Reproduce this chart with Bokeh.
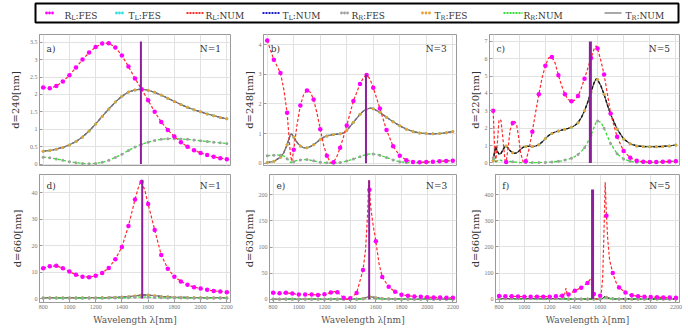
from bokeh.plotting import figure
from bokeh.models import Range1d, FixedTicker, Label, BoxAnnotation
from bokeh.layouts import column, row
from bokeh.embed import file_html
from bokeh.resources import INLINE
from bokeh.core.properties import value

# ---------------- data ----------------
x_ticks = [800, 1000, 1200, 1400, 1600, 1800, 2000, 2200]

# a) d=240nm, N=1
wl_a = [800, 850, 900, 950, 1000, 1050, 1100, 1150, 1200, 1250,
        1300, 1350, 1400, 1450, 1500, 1550, 1600, 1650, 1700, 1750,
        1800, 1850, 1900, 1950, 2000, 2050, 2100, 2150, 2200]
RL_a = [2.20, 2.18, 2.24, 2.37, 2.55, 2.77, 3.00, 3.20, 3.36, 3.46,
        3.47, 3.35, 3.12, 2.80, 2.46, 2.15, 1.83, 1.50, 1.21, 0.98,
        0.79, 0.63, 0.50, 0.40, 0.32, 0.26, 0.21, 0.17, 0.14]
T_a = [0.37, 0.39, 0.43, 0.48, 0.55, 0.65, 0.78, 0.95, 1.15, 1.37,
       1.58, 1.78, 1.95, 2.07, 2.13, 2.15, 2.12, 2.06, 1.98, 1.89,
       1.80, 1.71, 1.63, 1.56, 1.50, 1.44, 1.39, 1.34, 1.30]
RR_a = [0.20, 0.18, 0.15, 0.11, 0.07, 0.04, 0.02, 0.01, 0.02, 0.05,
        0.11, 0.19, 0.28, 0.39, 0.49, 0.57, 0.63, 0.68, 0.71, 0.73,
        0.73, 0.72, 0.71, 0.69, 0.67, 0.65, 0.63, 0.61, 0.59]

# b) d=248nm, N=3
wl_b = [800, 850, 900, 925, 950, 975, 985, 1000, 1025, 1050,
        1075, 1100, 1125, 1150, 1175, 1200, 1225, 1250, 1275, 1290,
        1300, 1325, 1350, 1375, 1400, 1450, 1500, 1525, 1550, 1575,
        1600, 1650, 1700, 1750, 1800, 1850, 1900, 1950, 2000, 2050,
        2100, 2150, 2200]
RL_b = [4.15, 3.50, 3.05, 2.50, 1.70, 0.30, 0.05, 0.45, 1.30, 1.95,
        2.32, 2.46, 2.40, 2.15, 1.70, 1.15, 0.62, 0.25, 0.04, 0.00,
        0.03, 0.22, 0.52, 0.88, 1.27, 2.10, 2.68, 2.88, 2.98, 2.85,
        2.55, 1.85, 1.12, 0.57, 0.25, 0.10, 0.04, 0.03, 0.04, 0.05,
        0.06, 0.07, 0.08]
T_b = [0.02, 0.06, 0.20, 0.35, 0.62, 0.97, 0.98, 0.88, 0.70, 0.58,
       0.52, 0.52, 0.56, 0.62, 0.71, 0.80, 0.87, 0.92, 0.95, 0.96,
       0.97, 0.98, 0.99, 1.02, 1.10, 1.38, 1.65, 1.76, 1.83, 1.86,
       1.84, 1.72, 1.55, 1.40, 1.26, 1.15, 1.07, 1.02, 1.00, 0.99,
       1.00, 1.03, 1.07]
RR_b = [0.25, 0.27, 0.27, 0.24, 0.15, 0.03, 0.02, 0.05, 0.09, 0.11,
        0.12, 0.12, 0.10, 0.08, 0.05, 0.03, 0.02, 0.01, 0.00, 0.00,
        0.00, 0.01, 0.02, 0.04, 0.07, 0.14, 0.22, 0.26, 0.29, 0.31,
        0.31, 0.27, 0.19, 0.11, 0.05, 0.02, 0.01, 0.02, 0.03, 0.04,
        0.06, 0.08, 0.10]

# c) d=220nm, N=5
wl_c = [800, 810, 820, 830, 845, 860, 875, 890, 900, 915,
        930, 950, 965, 980, 995, 1010, 1030, 1050, 1075, 1100,
        1125, 1150, 1175, 1200, 1225, 1250, 1275, 1300, 1325, 1350,
        1375, 1400, 1425, 1450, 1475, 1500, 1525, 1550, 1575, 1590,
        1600, 1625, 1650, 1675, 1700, 1750, 1800, 1850, 1900, 1950,
        2000, 2050, 2100, 2150, 2200]
RL_c = [3.00, 1.20, 0.05, 0.90, 2.50, 2.45, 1.40, 0.20, 0.05, 0.90,
        1.90, 2.30, 2.40, 2.20, 1.50, 0.60, 0.05, 0.10, 0.80, 1.80,
        2.90, 3.95, 4.90, 5.60, 6.05, 6.10, 5.75, 5.05, 4.45, 3.95,
        3.65, 3.55, 3.62, 3.85, 4.30, 4.85, 5.45, 6.05, 6.60, 6.75,
        6.60, 5.90, 5.10, 4.00, 2.85, 1.50, 0.68, 0.30, 0.12, 0.06,
        0.05, 0.05, 0.06, 0.08, 0.10]
T_c = [0.12, 0.60, 0.95, 0.70, 0.50, 0.55, 0.75, 0.95, 0.97, 0.85,
       0.70, 0.58, 0.55, 0.58, 0.66, 0.78, 0.90, 0.95, 0.95, 0.94,
       0.97, 1.05, 1.20, 1.40, 1.58, 1.70, 1.78, 1.84, 1.89, 1.94,
       1.99, 2.05, 2.15, 2.32, 2.60, 3.00, 3.50, 4.10, 4.65, 4.85,
       4.80, 4.45, 3.95, 3.35, 2.80, 1.95, 1.38, 1.10, 0.98, 0.94,
       0.93, 0.93, 0.95, 0.98, 1.03]
RR_c = [0.30, 0.15, 0.05, 0.10, 0.20, 0.15, 0.08, 0.05, 0.04, 0.06,
        0.08, 0.07, 0.05, 0.04, 0.03, 0.02, 0.02, 0.02, 0.02, 0.02,
        0.02, 0.02, 0.03, 0.03, 0.04, 0.05, 0.07, 0.09, 0.12, 0.16,
        0.21, 0.27, 0.36, 0.48, 0.65, 0.88, 1.20, 1.60, 2.10, 2.35,
        2.42, 2.35, 2.00, 1.55, 1.12, 0.52, 0.22, 0.09, 0.04, 0.02,
        0.02, 0.03, 0.05, 0.08, 0.12]

# d) d=660nm, N=1
wl_d = [800, 850, 900, 950, 1000, 1050, 1100, 1150, 1200, 1250,
        1300, 1350, 1400, 1450, 1500, 1525, 1545, 1550, 1575, 1600,
        1650, 1700, 1750, 1800, 1850, 1900, 1950, 2000, 2050, 2100,
        2150, 2200]
RL_d = [11.5, 12.2, 12.4, 11.5, 10.2, 9.0, 8.3, 8.1, 8.6, 9.7,
        11.6, 14.9, 19.5, 27.5, 37.5, 42.0, 44.5, 44.2, 41.0, 35.8,
        26.0, 16.5, 11.3, 8.3, 6.5, 5.2, 4.3, 3.8, 3.3, 2.9,
        2.7, 2.4]
T_d = [0.30, 0.30, 0.30, 0.30, 0.30, 0.30, 0.30, 0.31, 0.33, 0.36,
       0.40, 0.46, 0.55, 0.72, 0.98, 1.15, 1.28, 1.30, 1.36, 1.32,
       1.08, 0.82, 0.64, 0.52, 0.45, 0.40, 0.37, 0.35, 0.33, 0.32,
       0.31, 0.30]
RR_d = [0.12, 0.12, 0.12, 0.12, 0.12, 0.12, 0.12, 0.12, 0.13, 0.14,
        0.16, 0.19, 0.24, 0.32, 0.45, 0.52, 0.56, 0.56, 0.55, 0.50,
        0.40, 0.30, 0.24, 0.20, 0.18, 0.16, 0.15, 0.14, 0.14, 0.13,
        0.13, 0.12]

# e) d=630nm, N=3
wl_e = [800, 850, 900, 950, 1000, 1050, 1100, 1150, 1200, 1250,
        1280, 1300, 1350, 1375, 1400, 1450, 1500, 1520, 1535, 1545,
        1550, 1560, 1575, 1600, 1625, 1650, 1700, 1750, 1800, 1850,
        1900, 1950, 2000, 2050, 2100, 2150, 2200]
RL_e = [12.7, 11.5, 12.5, 11.0, 9.5, 9.2, 9.3, 8.5, 10.0, 13.0,
        15.0, 13.5, 3.0, 0.3, 2.0, 12.0, 56.0, 95.0, 160.0, 228.0,
        210.0, 178.0, 148.0, 111.0, 68.0, 43.0, 24.0, 14.5, 9.0, 7.0,
        5.5, 4.8, 4.2, 3.8, 3.5, 3.2, 3.0]
T_e = [0.5, 0.5, 0.5, 0.5, 0.5, 0.5, 0.5, 0.5, 0.5, 0.6,
       0.7, 0.6, 0.3, 0.2, 0.3, 0.6, 1.8, 3.0, 4.5, 5.5,
       5.4, 5.0, 4.2, 3.2, 2.2, 1.6, 1.0, 0.8, 0.7, 0.6,
       0.6, 0.5, 0.5, 0.5, 0.5, 0.5, 0.5]
RR_e = [0.3, 0.3, 0.3, 0.3, 0.3, 0.3, 0.3, 0.3, 0.3, 0.3,
        0.3, 0.3, 0.2, 0.2, 0.2, 0.3, 0.8, 1.4, 2.0, 2.4,
        2.3, 2.1, 1.8, 1.3, 0.9, 0.7, 0.5, 0.4, 0.4, 0.3,
        0.3, 0.3, 0.3, 0.3, 0.3, 0.3, 0.3]

# f) d=660nm, N=5
wl_f = [800, 850, 900, 950, 1000, 1050, 1100, 1150, 1200, 1250,
        1300, 1320, 1330, 1340, 1350, 1400, 1450, 1500, 1520, 1530,
        1540, 1550, 1560, 1575, 1590, 1600, 1610, 1620, 1630, 1640,
        1650, 1660, 1675, 1700, 1725, 1750, 1800, 1850, 1900, 1950,
        2000, 2050, 2100, 2150, 2200]
RL_f = [11.7, 11.0, 10.5, 10.0, 9.5, 9.0, 9.0, 9.2, 9.5, 10.5,
        12.5, 20.0, 42.0, 15.0, 18.0, 32.0, 44.0, 62.0, 75.0, 81.0,
        65.0, 20.0, 2.0, 1.0, 6.0, 13.0, 28.0, 80.0, 250.0, 448.0,
        320.0, 230.0, 150.0, 100.0, 65.0, 45.0, 25.0, 15.0, 11.0, 9.0,
        8.0, 7.0, 6.5, 6.0, 5.5]
T_f = [2.0, 2.0, 2.0, 2.0, 2.0, 2.0, 2.0, 2.0, 2.0, 2.0,
       2.0, 2.5, 1.0, 0.5, 0.5, 0.5, 0.6, 0.8, 1.0, 1.0,
       0.8, 0.5, 0.3, 0.3, 0.5, 0.8, 1.5, 3.0, 6.0, 9.0,
       7.0, 4.5, 2.5, 1.5, 1.0, 0.8, 0.6, 0.5, 0.5, 0.5,
       0.5, 0.5, 0.5, 0.5, 0.5]
RR_f = [1.0, 1.0, 1.0, 1.0, 1.0, 1.0, 1.0, 1.0, 1.0, 1.0,
        1.0, 1.0, 0.5, 0.5, 0.5, 0.5, 0.5, 0.6, 0.7, 0.7,
        0.6, 0.4, 0.3, 0.3, 0.4, 0.6, 1.0, 2.0, 4.0, 6.0,
        5.0, 3.5, 2.0, 1.2, 0.8, 0.6, 0.5, 0.5, 0.5, 0.5,
        0.5, 0.5, 0.5, 0.5, 0.5]

# resonance marker (vertical purple line): wavelength and top value per panel
res_wl = [1545, 1545, 1545, 1555, 1548, 1540]
res_top = [3.52, 3.0, 7.0, 45.0, 228.0, 420.0]

panel_tags = ["a)", "b)", "c)", "d)", "e)", "f)"]
panel_N = ["N=1", "N=3", "N=5", "N=1", "N=3", "N=5"]
panel_ylabels = ["d=240[nm]", "d=248[nm]", "d=220[nm]", "d=660[nm]", "d=630[nm]", "d=660[nm]"]
y_ranges = [(-0.04, 3.72), (-0.08, 4.35), (-0.15, 7.4), (-1.5, 47.0), (-6.0, 239.0), (-13.0, 478.0)]
y_ticks = [[0.0, 0.5, 1.0, 1.5, 2.0, 2.5, 3.0, 3.5], [0, 1, 2, 3, 4], [0, 1, 2, 3, 4, 5, 6, 7],
           [0, 10, 20, 30, 40], [0, 50, 100, 150, 200], [0, 100, 200, 300, 400]]

series = [(wl_a, RL_a, T_a, RR_a), (wl_b, RL_b, T_b, RR_b), (wl_c, RL_c, T_c, RR_c),
          (wl_d, RL_d, T_d, RR_d), (wl_e, RL_e, T_e, RR_e), (wl_f, RL_f, T_f, RR_f)]
for s in series:
    assert all(len(v) == len(s[0]) for v in s), [len(v) for v in s]

# ---------------- style ----------------
SERIF = "DejaVu Serif"
TICKF = "Liberation Serif"
C_RL_FES = "#ff00ff"
C_TL_FES = "#33e0e0"
C_RL_NUM = "#ff2a2a"
C_TL_NUM = "#1a1acc"
C_RR_FES = "#a0a0a0"
C_TR_FES = "#e8a030"
C_RR_NUM = "#33dd33"
C_TR_NUM = "#7f7468"
C_RES = "#8e1f9a"
dark_T = [False, False, True, False, False, True]
res_width = [2, 2, 3, 2, 2, 3]

X0, X1 = 772, 2228
col_w = [240, 226, 222]
col_left = [39, 18, 20]
col_right = [10, 10, 9]
label_standoff = [6, 1, 1]


def make_panel(i):
    wl, rl, t, rr = series[i]
    c = i % 3
    bottom = i >= 3
    h = 158 if bottom else 146
    p = figure(width=col_w[c], height=h, x_range=Range1d(X0, X1),
               y_range=Range1d(*y_ranges[i]), output_backend="svg", toolbar_location=None,
               min_border_left=col_left[c], min_border_right=col_right[c],
               min_border_top=4 if bottom else 10, min_border_bottom=26 if bottom else 5)
    p.background_fill_color = "white"
    p.border_fill_color = "white"
    p.outline_line_color = "#9a9a9a"
    p.xaxis.ticker = FixedTicker(ticks=x_ticks)
    p.yaxis.ticker = FixedTicker(ticks=y_ticks[i])
    p.grid.grid_line_color = "#e2e2e2"
    p.grid.grid_line_width = 1
    for ax in (p.xaxis[0], p.yaxis[0]):
        ax.axis_line_color = "#9a9a9a"
        ax.major_tick_in = 3
        ax.major_tick_out = 0
        ax.major_tick_line_color = "#9a9a9a"
        ax.minor_tick_line_color = None
        ax.major_label_text_font = TICKF
        ax.major_label_text_font_size = "6px"
        ax.major_label_text_color = "#777777"
        ax.major_label_standoff = 2
    p.yaxis.axis_label = panel_ylabels[i]
    p.yaxis.axis_label_text_font = SERIF
    p.yaxis.axis_label_text_font_size = "10px"
    p.yaxis.axis_label_text_font_style = "normal"
    p.yaxis.axis_label_text_color = "#333333"
    p.yaxis.axis_label_standoff = label_standoff[c]
    if bottom:
        p.xaxis.axis_label = "Wavelength λ[nm]"
        p.xaxis.axis_label_text_font = SERIF
        p.xaxis.axis_label_text_font_size = "9px"
        p.xaxis.axis_label_text_font_style = "normal"
        p.xaxis.axis_label_text_color = "#555555"
        p.xaxis.axis_label_standoff = 3
        p.xaxis.major_label_standoff = 2
    else:
        p.xaxis.visible = False

    dw = [w for w in wl if w % 50 == 0]
    pick = lambda arr: [v for w, v in zip(wl, arr) if w % 50 == 0]

    # numerical curves
    if dark_T[i]:
        p.line(wl, t, line_color="#555555", line_width=1.2)
        p.line(wl, t, line_color="#111111", line_width=1.3, line_dash="3 2")
    else:
        p.line(wl, t, line_color=C_TL_NUM, line_width=1.2, line_dash="3 2")
        p.line(wl, t, line_color=C_TR_NUM, line_width=1.3)
    p.line(wl, rr, line_color=C_RR_NUM, line_width=1.3, line_dash="3 2")
    p.line(wl, rl, line_color=C_RL_NUM, line_width=1.2, line_dash="3 2")
    # FES dots
    p.scatter(dw, pick(t), size=3, color=C_TL_FES, line_color=None)
    p.scatter(dw, pick(t), size=3, color=C_TR_FES, line_color=None)
    p.scatter(dw, pick(rr), size=3, color=C_RR_FES, line_color=None)
    p.scatter(dw, pick(rl), size=4.5, color=C_RL_FES, line_color=None)
    # resonance line
    p.segment(x0=[res_wl[i]], y0=[0], x1=[res_wl[i]], y1=[res_top[i]],
              line_color=C_RES, line_width=res_width[i])

    y0, y1 = y_ranges[i]
    fy = 0.09 if bottom else 0.11
    p.add_layout(Label(x=X0 + 0.037 * (X1 - X0), y=y1 - fy * (y1 - y0), text=panel_tags[i],
                       text_font=SERIF, text_font_size="9px", text_color="#333333",
                       text_baseline="middle", text_align="left"))
    p.add_layout(Label(x=X1 - 0.05 * (X1 - X0), y=y1 - fy * (y1 - y0), text=panel_N[i],
                       text_font=SERIF, text_font_size="9px", text_color="#333333",
                       text_baseline="middle", text_align="right"))
    return p


panels = [make_panel(i) for i in range(6)]

# ---------------- legend strip ----------------
LH = 24
leg = figure(width=688, height=LH, x_range=Range1d(0, 688), y_range=Range1d(0, LH),
             output_backend="svg", toolbar_location=None, min_border=0)
leg.axis.visible = False
leg.grid.visible = False
leg.outline_line_color = None
leg.add_layout(BoxAnnotation(left=35, right=678, bottom=2, top=21, fill_color=None,
                             line_color="black", line_alpha=1.0, line_width=2))

leg_kind = ["dots", "dots", "dash", "dash", "dots", "dots", "dash", "solid"]
leg_color = [C_RL_FES, C_TL_FES, C_RL_NUM, C_TL_NUM, C_RR_FES, C_TR_FES, C_RR_NUM, "#555555"]
leg_main = ["R", "T", "R", "T", "R", "T", "R", "T"]
leg_sub = ["L", "L", "L", "L", "R", "R", "R", "R"]
leg_suffix = [":FES", ":FES", ":NUM", ":NUM", ":FES", " :FES", ":NUM", " :NUM"]
leg_sample_x = [46, 116, 186, 262, 341, 422, 503, 604]
leg_sample_len = [6, 6, 17, 17, 6, 7, 19, 17]
leg_text_x = [64, 128, 205, 282, 351, 434, 523, 625]
ym = 11.5
for k in range(8):
    sx = leg_sample_x[k]
    if leg_kind[k] == "dots":
        leg.scatter([sx, sx + leg_sample_len[k] / 2, sx + leg_sample_len[k]], [ym] * 3, size=2.8,
                    color=leg_color[k], line_color=None)
    elif leg_kind[k] == "dash":
        leg.line([sx, sx + leg_sample_len[k]], [ym, ym], line_color=leg_color[k], line_width=2,
                 line_dash="2 1")
    else:
        leg.line([sx, sx + leg_sample_len[k]], [ym, ym], line_color=leg_color[k], line_width=1.2)
    tx = leg_text_x[k]
    wmain = 6.7 if leg_main[k] == "R" else 6.1
    wsub = 4.8 if leg_sub[k] == "R" else 4.2
    leg.text([tx], [ym - 3.2], text=[leg_main[k]], text_font=value(SERIF), text_font_size="9px",
             text_color="#333333", text_baseline="alphabetic")
    leg.text([tx + wmain], [ym - 5.2], text=[leg_sub[k]], text_font=value(SERIF), text_font_size="6.5px",
             text_color="#333333", text_baseline="alphabetic")
    leg.text([tx + wmain + wsub], [ym - 3.2], text=[leg_suffix[k]], text_font=value(SERIF),
             text_font_size="9px", text_color="#333333", text_baseline="alphabetic")

layout = column(leg, row(*panels[:3]), row(*panels[3:]))
open("out.html", "w").write(file_html(layout, INLINE))
